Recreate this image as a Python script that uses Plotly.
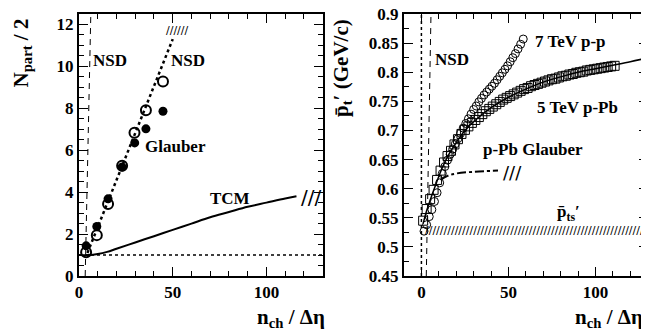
import plotly.graph_objects as go

# ---------------- Left panel data ----------------
open_x = [3.8, 9.5, 15.5, 23.0, 29.6, 35.7, 44.8]
open_y = [1.13, 1.95, 3.44, 5.26, 6.83, 7.91, 9.28]
fill_x = [3.8, 9.5, 15.5, 23.0, 29.7, 35.7, 44.8]
fill_y = [1.44, 2.36, 3.68, 5.20, 6.35, 7.02, 7.86]

nsd_fit_x = [4.5, 50.0]
nsd_fit_y = [1.1, 11.3]

nsd_lim_x = [3.3, 6.3]
nsd_lim_y = [0.0, 12.5]

tcm_x = [0, 5, 10, 15, 20, 30, 40, 50, 60, 70, 80, 90, 100, 110, 116]
tcm_y = [1.0, 1.0, 1.05, 1.15, 1.3, 1.6, 1.9, 2.2, 2.5, 2.8, 3.05, 3.3, 3.5, 3.7, 3.8]

unity_x = [0, 130]
unity_y = [1.0, 1.0]

# ---------------- Right panel data ----------------
pp_x = [1.5, 3, 4.5, 6, 7.5, 9, 10.5, 12, 13.5, 15, 16.5, 18, 19.5, 21, 22.5, 24,
        25.5, 27, 28.5, 30, 31.5, 33, 34.5, 36, 37.5, 39, 40.5, 42, 43.5, 45, 46.5,
        48, 49.5, 51, 52.5, 54, 55.5, 57, 58.5]
pp_y = [0.527, 0.538, 0.552, 0.564, 0.578, 0.593, 0.610, 0.626, 0.638, 0.649, 0.659,
        0.668, 0.677, 0.686, 0.695, 0.704, 0.712, 0.720, 0.728, 0.736, 0.742, 0.749,
        0.755, 0.761, 0.766, 0.771, 0.776, 0.781, 0.787, 0.793, 0.799, 0.805, 0.811,
        0.818, 0.825, 0.832, 0.840, 0.848, 0.857]

ppb_x = [1, 3, 5, 7, 9, 11, 13, 15, 17, 19, 21, 23, 25, 27, 29, 31, 33, 35, 37, 39,
         41, 43, 45, 47, 49, 51, 53, 55, 57, 59, 61, 63, 65, 67, 69, 71, 73, 75, 77,
         79, 81, 83, 85, 87, 89, 91, 93, 95, 97, 99, 101, 103, 105, 107, 109, 111]
ppb_y = [0.545, 0.565, 0.582, 0.598, 0.615, 0.631, 0.645, 0.656, 0.665, 0.676, 0.685,
         0.694, 0.701, 0.707, 0.713, 0.718, 0.723, 0.728, 0.733, 0.737, 0.741, 0.745,
         0.749, 0.753, 0.756, 0.759, 0.762, 0.765, 0.768, 0.771, 0.773, 0.776, 0.778,
         0.780, 0.782, 0.784, 0.786, 0.788, 0.789, 0.791, 0.793, 0.794, 0.796, 0.797,
         0.799, 0.800, 0.801, 0.803, 0.804, 0.805, 0.806, 0.807, 0.808, 0.809, 0.810,
         0.811]

fit_x = [1, 3, 5, 8, 12, 16, 20, 25, 30, 40, 50, 60, 70, 80, 90, 100, 110, 120, 129]
fit_y = [0.540, 0.562, 0.580, 0.605, 0.636, 0.660, 0.679, 0.700, 0.715, 0.739, 0.757,
         0.771, 0.783, 0.792, 0.800, 0.806, 0.812, 0.818, 0.824]

glauber_x = [11, 15, 20, 30, 44]
glauber_y = [0.615, 0.622, 0.626, 0.629, 0.631]

nsd2_x = [2.8, 5.5]
nsd2_y = [0.45, 0.90]

zero_x = [0, 0]
zero_y = [0.45, 0.90]

FONT = "Liberation Serif, Times New Roman, Times, serif"
SLASH = "DejaVu Sans, sans-serif"
BLACK = "black"

fig = go.Figure()

# left panel traces
fig.add_trace(go.Scatter(x=unity_x, y=unity_y, mode="lines", xaxis="x", yaxis="y",
                         line=dict(color=BLACK, width=1.5, dash="dot")))
fig.add_trace(go.Scatter(x=nsd_lim_x, y=nsd_lim_y, mode="lines", xaxis="x", yaxis="y",
                         line=dict(color=BLACK, width=1, dash="6px,5px")))
fig.add_trace(go.Scatter(x=nsd_fit_x, y=nsd_fit_y, mode="lines", xaxis="x", yaxis="y",
                         line=dict(color=BLACK, width=2.5, dash="3px,3px")))
fig.add_trace(go.Scatter(x=tcm_x, y=tcm_y, mode="lines", xaxis="x", yaxis="y",
                         line=dict(color=BLACK, width=2, shape="spline")))
fig.add_trace(go.Scatter(x=fill_x, y=fill_y, mode="markers", xaxis="x", yaxis="y",
                         marker=dict(symbol="circle", size=9, color=BLACK)))
fig.add_trace(go.Scatter(x=open_x, y=open_y, mode="markers", xaxis="x", yaxis="y",
                         marker=dict(symbol="circle-open", size=10, color=BLACK,
                                     line=dict(width=2, color=BLACK))))

# right panel traces
fig.add_trace(go.Scatter(x=zero_x, y=zero_y, mode="lines", xaxis="x2", yaxis="y2",
                         line=dict(color=BLACK, width=1.5, dash="dot")))
fig.add_trace(go.Scatter(x=nsd2_x, y=nsd2_y, mode="lines", xaxis="x2", yaxis="y2",
                         line=dict(color=BLACK, width=1, dash="6px,5px")))
fig.add_trace(go.Scatter(x=glauber_x, y=glauber_y, mode="lines", xaxis="x2", yaxis="y2",
                         line=dict(color=BLACK, width=2, dash="dashdot", shape="spline")))
fig.add_trace(go.Scatter(x=pp_x, y=pp_y, mode="markers", xaxis="x2", yaxis="y2",
                         marker=dict(symbol="circle-open", size=8, color=BLACK,
                                     line=dict(width=1, color=BLACK))))
fig.add_trace(go.Scatter(x=ppb_x, y=ppb_y, mode="markers", xaxis="x2", yaxis="y2",
                         marker=dict(symbol="square-open", size=9, color=BLACK,
                                     line=dict(width=1, color=BLACK))))
fig.add_trace(go.Scatter(x=fit_x, y=fit_y, mode="lines", xaxis="x2", yaxis="y2",
                         line=dict(color=BLACK, width=1.5, shape="spline")))

# the page body has an 8px margin, so the figure is drawn 8px smaller and the
# reference pixel positions are shifted by that offset
OFF = 8
W, H = 649 - OFF, 331 - OFF
def px(v):
    return (v - OFF) / W
def py(v):
    return 1 - (v - OFF) / H

axis_common = dict(
    showline=True, linewidth=2, linecolor=BLACK, mirror="allticks",
    ticks="inside", ticklen=9, tickwidth=1, tickcolor=BLACK,
    showgrid=False, zeroline=False, automargin=False,
    ticklabeloverflow="allow",
    tickfont=dict(family=FONT, size=17, color=BLACK, weight="bold"),
)

fig.update_layout(
    width=W, height=H,
    margin=dict(l=0, r=0, t=0, b=0, autoexpand=False),
    paper_bgcolor="white", plot_bgcolor="white",
    showlegend=False,
    font=dict(family=FONT, color=BLACK),
    xaxis=dict(domain=[px(79), px(322.7)], range=[0, 130], anchor="y",
               tickvals=[0, 50, 100],
               minor=dict(dtick=10, tick0=0, ticks="inside", ticklen=5, tickcolor=BLACK),
               **axis_common),
    yaxis=dict(domain=[py(276), py(14)], range=[0, 12.5], anchor="x",
               tickvals=[0, 2, 4, 6, 8, 10, 12],
               minor=dict(dtick=0.5, tick0=0, ticks="inside", ticklen=5, tickcolor=BLACK),
               **axis_common),
    xaxis2=dict(domain=[px(404), px(647.7)], range=[-10, 130], anchor="y2",
                tickvals=[0, 50, 100],
                minor=dict(dtick=10, tick0=0, ticks="inside", ticklen=5, tickcolor=BLACK),
                **axis_common),
    yaxis2=dict(domain=[py(276), py(14)], range=[0.45, 0.9], anchor="x2",
                tickvals=[0.45, 0.5, 0.55, 0.6, 0.65, 0.7, 0.75, 0.8, 0.85, 0.9],
                ticktext=["0.45", "0.5", "0.55", "0.6", "0.65", "0.7", "0.75", "0.8", "0.85", "0.9"],
                minor=dict(dtick=0.025, tick0=0.45, ticks="inside", ticklen=5, tickcolor=BLACK),
                **axis_common),
)

def lab(text, x, y, ref="1", size=17, xanchor="left", yanchor="middle", angle=0, fam=FONT, weight="bold"):
    fig.add_annotation(text=text, x=x, y=y, xref="x" if ref == "1" else "x2",
                       yref="y" if ref == "1" else "y2", showarrow=False,
                       xanchor=xanchor, yanchor=yanchor, textangle=angle,
                       font=dict(family=fam, size=size, color=BLACK, weight=weight))

# left labels
lab("NSD", 6.5, 10.3)
lab("NSD", 48, 10.3)
lab("Glauber", 34, 6.2)
lab("TCM", 69, 3.7)
lab("//////", 45.5, 11.7, size=11, fam=SLASH, weight="normal")
lab("///", 117.5, 3.75, size=20, fam=SLASH, weight="normal")

# right labels
lab("NSD", 6.5, 0.822, ref="2")
lab("7 TeV p-p", 64, 0.852, ref="2")
lab("5 TeV p-Pb", 65, 0.739, ref="2")
lab("p-Pb Glauber", 34, 0.668, ref="2")
lab("p̄<sub>ts</sub>′", 77, 0.558, ref="2")
lab("/" * 60, 1.0, 0.529, ref="2", size=11, fam=SLASH, weight="normal")
lab("///", 45.5, 0.627, ref="2", size=18, fam=SLASH, weight="normal")

# axis titles
def ptitle(text, x, y, xanchor, yanchor, angle=0):
    fig.add_annotation(text=text, x=x, y=y, xref="paper", yref="paper", showarrow=False,
                       xanchor=xanchor, yanchor=yanchor, textangle=angle,
                       font=dict(family=FONT, size=21, color=BLACK, weight="bold"))

ptitle("n<sub>ch</sub> / Δη", px(327), py(318), "right", "middle")
ptitle("n<sub>ch</sub> / Δη", px(645), py(318), "right", "middle")
ptitle("N<sub>part</sub> / 2", px(21), py(17), "center", "top", angle=-90)
ptitle("p̄<sub>t</sub>′ (GeV/c)", px(342), py(17), "center", "top", angle=-90)

fig.write_html("out.html")
